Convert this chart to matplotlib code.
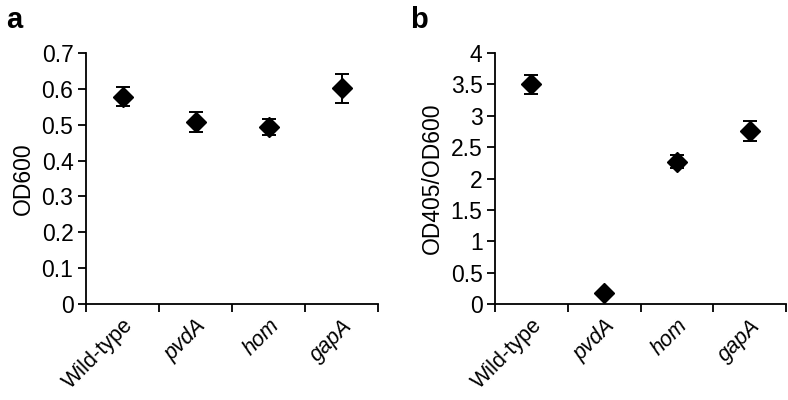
import matplotlib
matplotlib.use("Agg")
import matplotlib.pyplot as plt

plt.rcParams["font.family"] = ["Liberation Sans", "DejaVu Sans"]

strains = ["Wild-type", "pvdA", "hom", "gapA"]
od600 = [0.578, 0.508, 0.494, 0.601]
od600_err = [0.027, 0.028, 0.022, 0.040]
ratio = [3.50, 0.17, 2.27, 2.75]
ratio_err = [0.15, 0.0, 0.10, 0.16]

a_ticks = [0, 0.1, 0.2, 0.3, 0.4, 0.5, 0.6, 0.7]
a_ticklabels = ["0", "0.1", "0.2", "0.3", "0.4", "0.5", "0.6", "0.7"]
b_ticks = [0, 0.5, 1, 1.5, 2, 2.5, 3, 3.5, 4]
b_ticklabels = ["0", "0.5", "1", "1.5", "2", "2.5", "3", "3.5", "4"]

FS = 16.5

fig = plt.figure(figsize=(7.88, 4.0), dpi=100)
ax_a = fig.add_axes([86 / 788, 1 - 304 / 400, 292 / 788, 251 / 400])
ax_b = fig.add_axes([495 / 788, 1 - 304 / 400, 291 / 788, 251 / 400])


def panel(ax, vals, errs, ymax, ticks, ticklabels, ylabel):
    x = list(range(len(vals)))
    ax.errorbar(x, vals, yerr=errs, fmt="D", color="black", ms=10,
                ecolor="black", elinewidth=1.4, capsize=4.8, capthick=1.4)
    ax.set_xlim(-0.5, len(vals) - 0.5)
    ax.set_ylim(0, ymax)
    ax.set_yticks(ticks)
    ax.set_yticklabels(ticklabels)
    ax.set_xticks([i - 0.5 for i in range(len(vals) + 1)])
    ax.set_xticklabels([])
    ax.set_xticks(x, minor=True)
    ax.set_xticklabels(strains, minor=True, rotation=45, ha="right",
                       va="top", rotation_mode="anchor")
    for lab in ax.get_xticklabels(minor=True):
        if lab.get_text() != "Wild-type":
            lab.set_style("italic")
    ax.tick_params(axis="x", which="minor", length=0, pad=8, labelsize=15.5)
    ax.tick_params(axis="x", which="major", length=6, width=1.3, direction="out")
    ax.tick_params(axis="y", length=6, width=1.3, direction="out", labelsize=FS, pad=3)
    for s in ["top", "right"]:
        ax.spines[s].set_visible(False)
    for s in ["left", "bottom"]:
        ax.spines[s].set_linewidth(1.3)
    ax.set_ylabel(ylabel, fontsize=FS, labelpad=5)


panel(ax_a, od600, od600_err, 0.7, a_ticks, a_ticklabels, "OD600")
panel(ax_b, ratio, ratio_err, 4, b_ticks, b_ticklabels, "OD405/OD600")

fig.text(6 / 788, 1 - 20 / 400, "a", fontsize=21, fontweight="bold", va="center")
fig.text(410 / 788, 1 - 20 / 400, "b", fontsize=21, fontweight="bold", va="center")

fig.savefig("out.png", dpi=100)
